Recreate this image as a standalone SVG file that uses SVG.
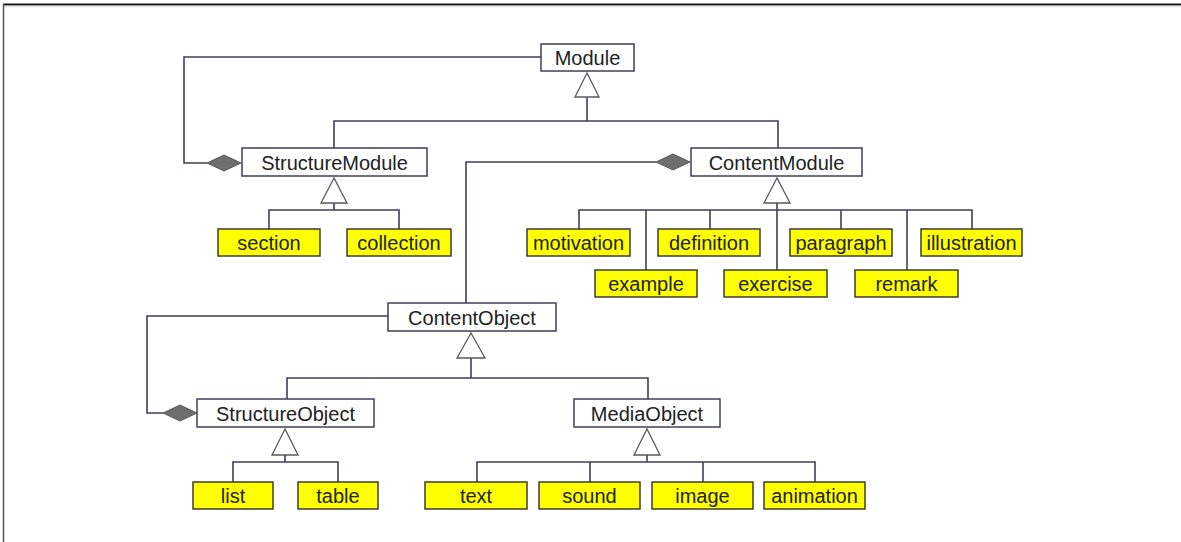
<svg xmlns="http://www.w3.org/2000/svg" width="1181" height="542" viewBox="0 0 1181 542">
<defs>
<style>
.cls rect{fill:#ffffff;stroke:#3c4058;stroke-width:1.5}
.leaf rect{fill:#ffff00;stroke:#3c3c30;stroke-width:1.5}
text{font-family:"Liberation Sans",Arial,sans-serif;font-size:20px;fill:#222;text-anchor:middle}
.ln{fill:none;stroke:#3c4058;stroke-width:1.6}
.tri{fill:#ffffff;stroke:#5a5a5a;stroke-width:1.3}
.dia{fill:#6e6e6e;stroke:#5a5a5a;stroke-width:1}
</style>
</defs>
<rect x="0" y="0" width="1181" height="542" fill="#ffffff"/>
<line x1="3" y1="4.5" x2="1181" y2="4.5" stroke="#111" stroke-width="1.8"/>
<line x1="3" y1="6.5" x2="1181" y2="6.5" stroke="#e4e4e4" stroke-width="1.5"/>
<line x1="3.5" y1="4" x2="3.5" y2="542" stroke="#555" stroke-width="1.5"/>

<g id="connectors">
  <path class="ln" d="M587 97 V121 M334 148 V121 H778 V148"/>
  <polygon class="tri" points="587,73 575,97 599,97"/>
  <path class="ln" d="M541 57 H184 V163 H207"/>
  <polygon class="dia" points="207,163 224,155 241,163 224,171"/>
  <path class="ln" d="M334 203 V210 M269 230 V210 H399 V230"/>
  <polygon class="tri" points="334,178 321,203 347,203"/>
  <path class="ln" d="M777 203 V270 M579 229 V210 H972 V229 M646 270 V210 M710 229 V210 M841 229 V210 M907 270 V210"/>
  <polygon class="tri" points="777,178 764,203 790,203"/>
  <path class="ln" d="M466 303 V162 H656"/>
  <polygon class="dia" points="656,162 673,154 690,162 673,170"/>
  <path class="ln" d="M471 358 V378 M287 399 V378 H648 V399"/>
  <polygon class="tri" points="471,333 457,358 485,358"/>
  <path class="ln" d="M388 316 H147 V413 H163"/>
  <polygon class="dia" points="163,413 180,405 197,413 180,421"/>
  <path class="ln" d="M285 455 V462 M233 482 V462 H338 V482"/>
  <polygon class="tri" points="285,429 272,455 298,455"/>
  <path class="ln" d="M647 455 V462 M477 482 V462 H815 V482 M590 482 V462 M703 482 V462"/>
  <polygon class="tri" points="647,429 634,455 660,455"/>
</g>

<g id="Module" class="cls"><rect x="541" y="44" width="93" height="27"/><text x="587.5" y="64.5">Module</text></g>
<g id="StructureModule" class="cls"><rect x="242" y="148" width="185" height="28"/><text x="334.5" y="169.5">StructureModule</text></g>
<g id="ContentModule" class="cls"><rect x="691" y="148" width="171" height="28"/><text x="776.5" y="169.5">ContentModule</text></g>
<g id="ContentObject" class="cls"><rect x="388" y="303" width="168" height="28"/><text x="472" y="324.5">ContentObject</text></g>
<g id="StructureObject" class="cls"><rect x="197" y="399" width="177" height="28"/><text x="285.5" y="420.5">StructureObject</text></g>
<g id="MediaObject" class="cls"><rect x="574" y="399" width="146" height="28"/><text x="647" y="420.5">MediaObject</text></g>

<g id="section" class="leaf"><rect x="218" y="229" width="102" height="27"/><text x="269" y="249.5">section</text></g>
<g id="collection" class="leaf"><rect x="347" y="229" width="104" height="27"/><text x="399" y="249.5">collection</text></g>
<g id="motivation" class="leaf"><rect x="527" y="229" width="103" height="27"/><text x="578.5" y="249.5">motivation</text></g>
<g id="definition" class="leaf"><rect x="658" y="229" width="102" height="27"/><text x="709" y="249.5">definition</text></g>
<g id="paragraph" class="leaf"><rect x="790" y="229" width="102" height="27"/><text x="841" y="249.5">paragraph</text></g>
<g id="illustration" class="leaf"><rect x="921" y="229" width="101" height="27"/><text x="971.5" y="249.5">illustration</text></g>
<g id="example" class="leaf"><rect x="595" y="270" width="102" height="27"/><text x="646" y="290.5">example</text></g>
<g id="exercise" class="leaf"><rect x="724" y="270" width="103" height="27"/><text x="775.5" y="290.5">exercise</text></g>
<g id="remark" class="leaf"><rect x="855" y="270" width="103" height="27"/><text x="906.5" y="290.5">remark</text></g>
<g id="list" class="leaf"><rect x="193" y="482" width="80" height="27"/><text x="233" y="502.5">list</text></g>
<g id="table" class="leaf"><rect x="298" y="482" width="80" height="27"/><text x="338" y="502.5">table</text></g>
<g id="text" class="leaf"><rect x="425" y="482" width="102" height="27"/><text x="476" y="502.5">text</text></g>
<g id="sound" class="leaf"><rect x="539" y="482" width="101" height="27"/><text x="589.5" y="502.5">sound</text></g>
<g id="image" class="leaf"><rect x="652" y="482" width="101" height="27"/><text x="702.5" y="502.5">image</text></g>
<g id="animation" class="leaf"><rect x="764" y="482" width="101" height="27"/><text x="814.5" y="502.5">animation</text></g>
</svg>
